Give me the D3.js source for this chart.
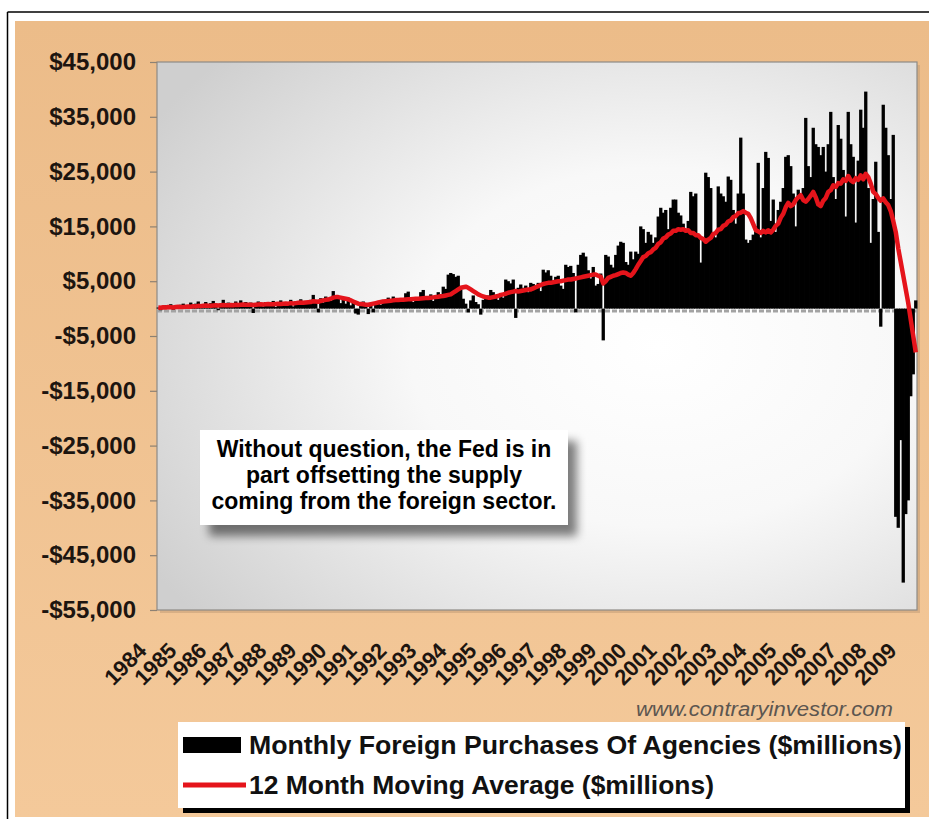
<!DOCTYPE html>
<html>
<head>
<meta charset="utf-8">
<script src="https://cdn.jsdelivr.net/npm/d3@7"></script>
<style>
  body { margin: 0; background: #ffffff; }
  svg { display: block; }
</style>
</head>
<body>
<svg id="chart" width="929" height="819"></svg>
<script>
// Monthly foreign purchases of agencies ($ millions), one row per year, Jan 1984 .. Apr 2009
const purchasesByYear = [
  [200, -300, 400, 600, 100, 800, -200, 500, 300, 700, 900, 400],                     // 1984
  [600, 1100, 300, 900, 1300, 500, 800, 1200, 400, 1000, 1400, 700],                  // 1985
  [-300, 900, 1600, 700, 1100, 400, 1000, 1300, 600, 1500, 800, 1200],                // 1986
  [500, 1100, -800, 700, 1300, 900, 400, 1200, 600, 1000, 1400, 300],                 // 1987
  [1000, 1500, 600, 1200, 800, 1600, 400, 1300, 1000, 1700, 900, 1400],               // 1988
  [1200, 1600, 2500, 1400, -700, 1900, 1100, 2200, 1800, 1400, 3200, 2400],           // 1989
  [1800, 1000, 1600, 900, 2000, 600, 1200, -900, -1100, 500, 1300, 800],              // 1990
  [-1000, 600, -700, 900, 1300, 700, 1600, 1200, 2000, 1400, 2200, 1800],             // 1991
  [1300, 1900, 1500, 2800, 3100, 1700, 1200, 2000, 1500, 3000, 3400, 2200],           // 1992
  [1800, 2600, 1400, 2200, 3000, 2400, 4000, 3600, 6200, 6500, 6300, 5800],           // 1993
  [6000, 3500, 1800, 900, -700, 1500, 2400, 1200, 800, -1100, 1600, 2000],            // 1994
  [2400, 3400, 3000, 2200, 1600, 2800, 2000, 5300, 5000, 4600, 5300, -1700],          // 1995
  [3800, 4400, 3800, 4200, 3000, 4700, 4500, 3600, 4700, 3200, 7100, 6600],           // 1996
  [7000, 6000, 5200, 5800, 6000, 4200, 3600, 8000, 7600, 7800, 6500, -700],           // 1997
  [8000, 9800, 10200, 9500, 7000, 5500, 7600, 4200, 4500, 6400, -5800, 9800],         // 1998
  [9500, 8000, 7500, 9800, 11500, 12200, 12000, 8500, 8000, 10400, 9000, 10400],      // 1999
  [10000, 15000, 14500, 12000, 14000, 13500, 12000, 13000, 16800, 18400, 17500, 18000], // 2000
  [14500, 18400, 19900, 19900, 17500, 17000, 15500, 14500, 16000, 21300, 20500, 21000], // 2001
  [13500, 8400, 12500, 24800, 24000, 22000, 13500, 13000, 22300, 21000, 20500, 19500], // 2002
  [24100, 23500, 18000, 15500, 21000, 31200, 21000, 12600, 12000, 12500, 13500, 15000], // 2003
  [26600, 13000, 22000, 28600, 27500, 16000, 19900, 14000, 18000, 19500, 22000, 27700], // 2004
  [28000, 26000, 21000, 15000, 21700, 20000, 22000, 34800, 26000, 24000, 33000, 30000], // 2005
  [29500, 28000, 29500, 25000, 30000, 35900, 24000, 20000, 33500, 31000, 25300, 16800], // 2006
  [35900, 30000, 27700, 15700, 27000, 36300, 33000, 39600, 22000, 12000, 20000, 26800], // 2007
  [14000, -3300, 37200, 33000, 28000, 20000, 31700, -38000, -40000, -24000, -50000, -37500], // 2008
  [-35000, -16000, -12000, 1500]                                                       // 2009
];

// 12 month moving average ($ millions), same months
const averageByYear = [
  [200, 150, 250, 200, 300, 250, 200, 300, 350, 300, 300, 350],
  [400, 350, 450, 400, 500, 450, 500, 550, 500, 500, 550, 600],
  [550, 600, 650, 600, 600, 650, 600, 700, 650, 700, 750, 700],
  [700, 700, 650, 700, 750, 800, 750, 800, 850, 800, 800, 850],
  [900, 850, 900, 950, 900, 1000, 950, 1000, 1050, 1100, 1050, 1100],
  [1150, 1200, 1350, 1300, 1250, 1400, 1500, 1600, 1650, 1800, 2000, 2100],
  [2100, 2000, 1900, 1800, 1700, 1500, 1300, 1100, 900, 850, 800, 700],
  [700, 800, 900, 1000, 1100, 1200, 1300, 1350, 1400, 1450, 1500, 1550],
  [1550, 1600, 1600, 1650, 1700, 1700, 1750, 1800, 1800, 1850, 1900, 1950],
  [1950, 2000, 2050, 2100, 2150, 2250, 2300, 2400, 2500, 2600, 2900, 3200],
  [3500, 3800, 3900, 4000, 3800, 3500, 3200, 2900, 2600, 2400, 2200, 2100],
  [2000, 2000, 2100, 2200, 2300, 2500, 2600, 2700, 2900, 3000, 3100, 3200],
  [3100, 3200, 3300, 3400, 3500, 3500, 3700, 3900, 4100, 4300, 4500, 4600],
  [4700, 4700, 4800, 4900, 5000, 5000, 5100, 5200, 5300, 5300, 5400, 5500],
  [5600, 5700, 5800, 5900, 6000, 6100, 6200, 6200, 6000, 5800, 4600, 5000],
  [5600, 5800, 6000, 6100, 6300, 6500, 6600, 6500, 6200, 6000, 6500, 7200],
  [8000, 8700, 9400, 9600, 10100, 10300, 10800, 11100, 11800, 12100, 12800, 13000],
  [13500, 13700, 14200, 14200, 14500, 14400, 14500, 14200, 14300, 13800, 13800, 13400],
  [13400, 12900, 12700, 12200, 12600, 12900, 13600, 13800, 14400, 14500, 15100, 15300],
  [15900, 16100, 16700, 16900, 17400, 17500, 17800, 17500, 17300, 16500, 15400, 14300],
  [14100, 13800, 14200, 13900, 14300, 13900, 14400, 15100, 15500, 16600, 17300, 18500],
  [19300, 18700, 19000, 19800, 20300, 20700, 19800, 19500, 20000, 20600, 21300, 20300],
  [19000, 18700, 19700, 20200, 21300, 21600, 22500, 22200, 22900, 22800, 23600, 23300],
  [24200, 23400, 23100, 23800, 23500, 24300, 23600, 24600, 24000, 22800, 21300, 20900],
  [20200, 19700, 20100, 19400, 18900, 17800, 16000, 14000, 11000, 8500, 6000, 3500],
  [1000, -2000, -5000, -8000]
];

const yearLabels = ["1984", "1985", "1986", "1987", "1988", "1989", "1990", "1991", "1992",
  "1993", "1994", "1995", "1996", "1997", "1998", "1999", "2000", "2001", "2002", "2003",
  "2004", "2005", "2006", "2007", "2008", "2009"];

const yTicks = [45000, 35000, 25000, 15000, 5000, -5000, -15000, -25000, -35000, -45000, -55000];

const legendLabels = ["Monthly Foreign Purchases Of Agencies ($millions)", "12 Month Moving Average ($millions)"];
const noteLines = ["Without question, the Fed is in", "part offsetting the supply", "coming from the foreign sector."];
const sourceText = "www.contraryinvestor.com";

const purchases = purchasesByYear.flat();
const average = averageByYear.flat();

const FONT = "'Liberation Sans', Arial, Helvetica, sans-serif";
const svg = d3.select("#chart");
const defs = svg.append("defs");

// panel colour
const tanGrad = defs.append("linearGradient").attr("id", "tanFill")
  .attr("x1", 0).attr("y1", 0).attr("x2", 0).attr("y2", 1);
tanGrad.append("stop").attr("offset", 0).attr("stop-color", "#ecbc89");
tanGrad.append("stop").attr("offset", 1).attr("stop-color", "#f4c99a");

// plot-area shading: bright centre, grey edges
const plotGrad = defs.append("radialGradient").attr("id", "plotFill")
  .attr("cx", 0.66).attr("cy", 0.52).attr("r", 0.78);
plotGrad.append("stop").attr("offset", 0).attr("stop-color", "#ffffff");
plotGrad.append("stop").attr("offset", 0.42).attr("stop-color", "#f8f8f8");
plotGrad.append("stop").attr("offset", 1).attr("stop-color", "#cfcfcf");

// soft drop shadow for the note box
const shadow = defs.append("filter").attr("id", "noteShadow")
  .attr("x", "-20%").attr("y", "-30%").attr("width", "150%").attr("height", "180%");
shadow.append("feGaussianBlur").attr("in", "SourceAlpha").attr("stdDeviation", 5).attr("result", "blur");
shadow.append("feOffset").attr("in", "blur").attr("dx", 9).attr("dy", 11).attr("result", "off");
shadow.append("feComponentTransfer").attr("in", "off").attr("result", "soft")
  .append("feFuncA").attr("type", "linear").attr("slope", 0.5);
const merge = shadow.append("feMerge");
merge.append("feMergeNode").attr("in", "soft");
merge.append("feMergeNode").attr("in", "SourceGraphic");

// outer frame and panel
svg.append("rect").attr("width", 929).attr("height", 819).attr("fill", "#ffffff");
svg.append("line").attr("x1", 7.5).attr("x2", 929).attr("y1", 12).attr("y2", 12)
  .attr("stroke", "#000").attr("stroke-width", 1.5);
svg.append("line").attr("x1", 7.5).attr("x2", 7.5).attr("y1", 12).attr("y2", 819)
  .attr("stroke", "#000").attr("stroke-width", 1.5);
svg.append("rect").attr("x", 15).attr("y", 21).attr("width", 914).attr("height", 796)
  .attr("fill", "url(#tanFill)");

// scales
const x = d3.scaleBand().domain(d3.range(purchases.length)).range([157, 917]).padding(0);
const y = d3.scaleLinear().domain([-55000, 45000]).range([610, 62]);
const bw = x.bandwidth();

const plotTop = y(45000), plotBottom = y(-55000);

// plot background
svg.append("rect").attr("x", 160).attr("y", plotTop + 3).attr("width", 760).attr("height", plotBottom - plotTop)
  .attr("fill", "#c7a079").attr("opacity", 0.6);
svg.append("rect").attr("x", 157).attr("y", plotTop).attr("width", 760).attr("height", plotBottom - plotTop)
  .attr("fill", "url(#plotFill)").attr("stroke", "#8e8a86").attr("stroke-width", 1.2);

// dashed zero line
svg.append("line")
  .attr("x1", 157).attr("x2", 917)
  .attr("y1", y(0) + 2.5).attr("y2", y(0) + 2.5)
  .attr("stroke", "#a3a3a3").attr("stroke-width", 3).attr("stroke-dasharray", "5,2");

// monthly bars (slightly widened so neighbours merge into a solid mass)
svg.append("g")
  .selectAll("rect").data(purchases).join("rect")
  .attr("x", (d, i) => x(i) - 0.4)
  .attr("width", bw + 0.8)
  .attr("y", d => y(Math.max(0, d)))
  .attr("height", d => Math.abs(y(d) - y(0)))
  .attr("fill", "#000000");

// moving average line
const line = d3.line().x((d, i) => x(i) + bw / 2).y(d => y(d));
svg.append("path").datum(average)
  .attr("d", line)
  .attr("fill", "none")
  .attr("stroke", "#e5141b")
  .attr("stroke-width", 4.5)
  .attr("stroke-linejoin", "round");

// y axis
const money = v => (v < 0 ? "-$" : "$") + d3.format(",")(Math.abs(v));
const yAxis = d3.axisLeft(y).tickValues(yTicks).tickSize(7).tickPadding(14).tickFormat(money);
const gy = svg.append("g").attr("transform", "translate(157,0)").call(yAxis);
gy.select(".domain").remove();
gy.selectAll(".tick line").attr("stroke", "#8d8173").attr("stroke-width", 1.2);
gy.attr("font-family", FONT).attr("font-size", 24).attr("font-weight", "bold");
gy.selectAll(".tick text").attr("fill", "#1d1510");

// year labels, one per January, slanted
svg.append("g").selectAll("text").data(yearLabels).join("text")
  .attr("transform", (d, i) => `translate(${x(i * 12) - 9},652) rotate(-45)`)
  .attr("text-anchor", "end")
  .attr("font-family", FONT).attr("font-size", 22).attr("font-weight", "bold")
  .attr("fill", "#1d1510")
  .text(d => d);

// source text
svg.append("text").attr("x", 636).attr("y", 716)
  .attr("font-family", FONT).attr("font-size", 20).attr("font-style", "italic")
  .attr("fill", "#5c5650")
  .attr("textLength", 257).attr("lengthAdjust", "spacingAndGlyphs")
  .text(sourceText);

// note box
const note = svg.append("g");
note.append("rect").attr("x", 200).attr("y", 430).attr("width", 368).attr("height", 95)
  .attr("fill", "#ffffff").attr("filter", "url(#noteShadow)");
note.selectAll("text").data(noteLines).join("text")
  .attr("x", 384).attr("y", (d, i) => 457 + i * 26)
  .attr("text-anchor", "middle")
  .attr("font-family", FONT).attr("font-size", 23).attr("font-weight", "bold")
  .attr("fill", "#000")
  .text(d => d);

// legend
const lg = svg.append("g");
lg.append("rect").attr("x", 183).attr("y", 727).attr("width", 727).attr("height", 86).attr("fill", "#000");
lg.append("rect").attr("x", 178).attr("y", 722).attr("width", 727).attr("height", 86).attr("fill", "#ffffff");
lg.append("rect").attr("x", 183).attr("y", 737).attr("width", 58).attr("height", 16).attr("fill", "#000");
lg.append("line").attr("x1", 183).attr("x2", 246).attr("y1", 785).attr("y2", 785)
  .attr("stroke", "#e5141b").attr("stroke-width", 5);
const legendWidths = [653, 465];
lg.selectAll("text.lab").data(legendLabels).join("text").attr("class", "lab")
  .attr("x", 249).attr("y", (d, i) => 754 + i * 40)
  .attr("font-family", FONT).attr("font-size", 26).attr("font-weight", "bold")
  .attr("fill", "#111")
  .attr("textLength", (d, i) => legendWidths[i]).attr("lengthAdjust", "spacingAndGlyphs")
  .text(d => d);
</script>
</body>
</html>
